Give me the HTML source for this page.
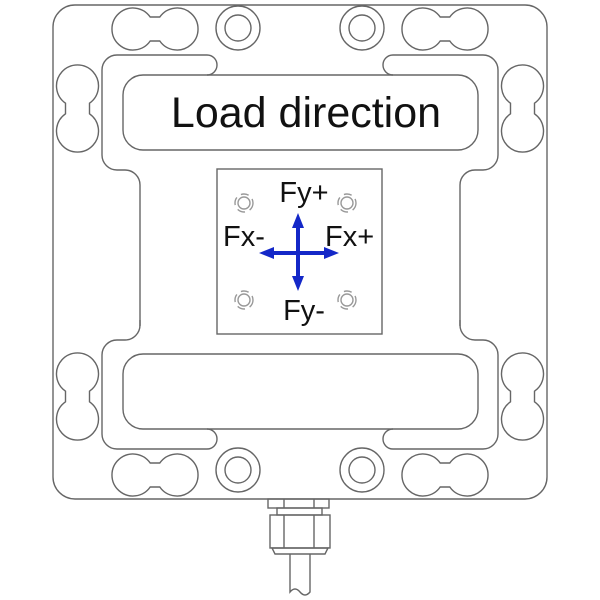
<!DOCTYPE html>
<html><head><style>html,body{margin:0;padding:0;background:#fff;width:600px;height:600px;overflow:hidden}</style></head>
<body>
<svg width="600" height="600" viewBox="0 0 600 600" xmlns="http://www.w3.org/2000/svg">
<defs>
<path id="hp" d="M150.2,17 L159.8,17 A21 21 0 1 1 159.8,41 L150.2,41 A21 21 0 1 1 150.2,17 Z"/>
<path id="vp" d="M65.5,103.2 L65.5,113.8 A21 21 0 1 0 89.5,113.8 L89.5,103.2 A21 21 0 1 0 65.5,103.2 Z"/>
<g id="half">
<use href="#hp"/>
<use href="#hp" transform="translate(0,446)"/>
<use href="#vp"/>
<use href="#vp" transform="translate(0,288)"/>
<circle cx="238" cy="28" r="22"/><circle cx="238" cy="28" r="13"/>
<circle cx="238" cy="470" r="22"/><circle cx="238" cy="470" r="13"/>
<path d="M140,326 L140,185 A15 15 0 0 0 125,170 L117,170 A15 15 0 0 1 102,155 L102,70 A15 15 0 0 1 117,55 L207,55 A10 10 0 0 1 207,75"/>
<path d="M140,320 L140,325 A15 15 0 0 1 125,340 L117,340 A15 15 0 0 0 102,355 L102,434 A15 15 0 0 0 117,449 L207,449 A10 10 0 0 0 207,429"/>
</g>
</defs>
<g fill="none" stroke="#666" stroke-width="1.4">
<rect x="53" y="5" width="494" height="494" rx="22"/>
<use href="#half"/>
<use href="#half" transform="translate(600,0) scale(-1,1)"/>
<rect x="123" y="75" width="355" height="75" rx="20"/>
<rect x="123" y="354" width="355" height="75" rx="20"/>
<rect x="217" y="169" width="165" height="165"/>
<g stroke="#999">
<circle cx="244" cy="203" r="6"/><circle cx="244" cy="203" r="9" stroke-dasharray="8 5"/>
<circle cx="347" cy="203" r="6"/><circle cx="347" cy="203" r="9" stroke-dasharray="8 5"/>
<circle cx="244" cy="300" r="6"/><circle cx="244" cy="300" r="9" stroke-dasharray="8 5"/>
<circle cx="347" cy="300" r="6"/><circle cx="347" cy="300" r="9" stroke-dasharray="8 5"/>
</g>
<rect x="268" y="499" width="61" height="9"/>
<line x1="284" y1="499" x2="284" y2="508"/><line x1="314" y1="499" x2="314" y2="508"/>
<rect x="277" y="508" width="45" height="7"/>
<rect x="270" y="515" width="60" height="33"/>
<line x1="284" y1="515" x2="284" y2="548"/><line x1="314" y1="515" x2="314" y2="548"/>
<path d="M272,548 L328,548 L325,554 L275,554 Z"/>
<path d="M290,554 L290,592 Q295,586 300,592 Q305,598 310,592 L310,554"/>
</g>
<g fill="#1428c8" stroke="none">
<rect x="296" y="225" width="4" height="56"/>
<rect x="270" y="251" width="56" height="4"/>
<polygon points="298,213 292,228 304,228"/>
<polygon points="298,291 292,276 304,276"/>
<polygon points="259,253 274,247 274,259"/>
<polygon points="339,253 324,247 324,259"/>
</g>
<g font-family="Liberation Sans, sans-serif" fill="#111">
<text x="306" y="127" font-size="43" text-anchor="middle">Load direction</text>
<text x="304" y="202" font-size="29" text-anchor="middle">Fy+</text>
<text x="304" y="320" font-size="29" text-anchor="middle">Fy-</text>
<text x="223" y="246" font-size="29">Fx-</text>
<text x="325" y="246" font-size="29">Fx+</text>
</g>
</svg>
</body></html>
